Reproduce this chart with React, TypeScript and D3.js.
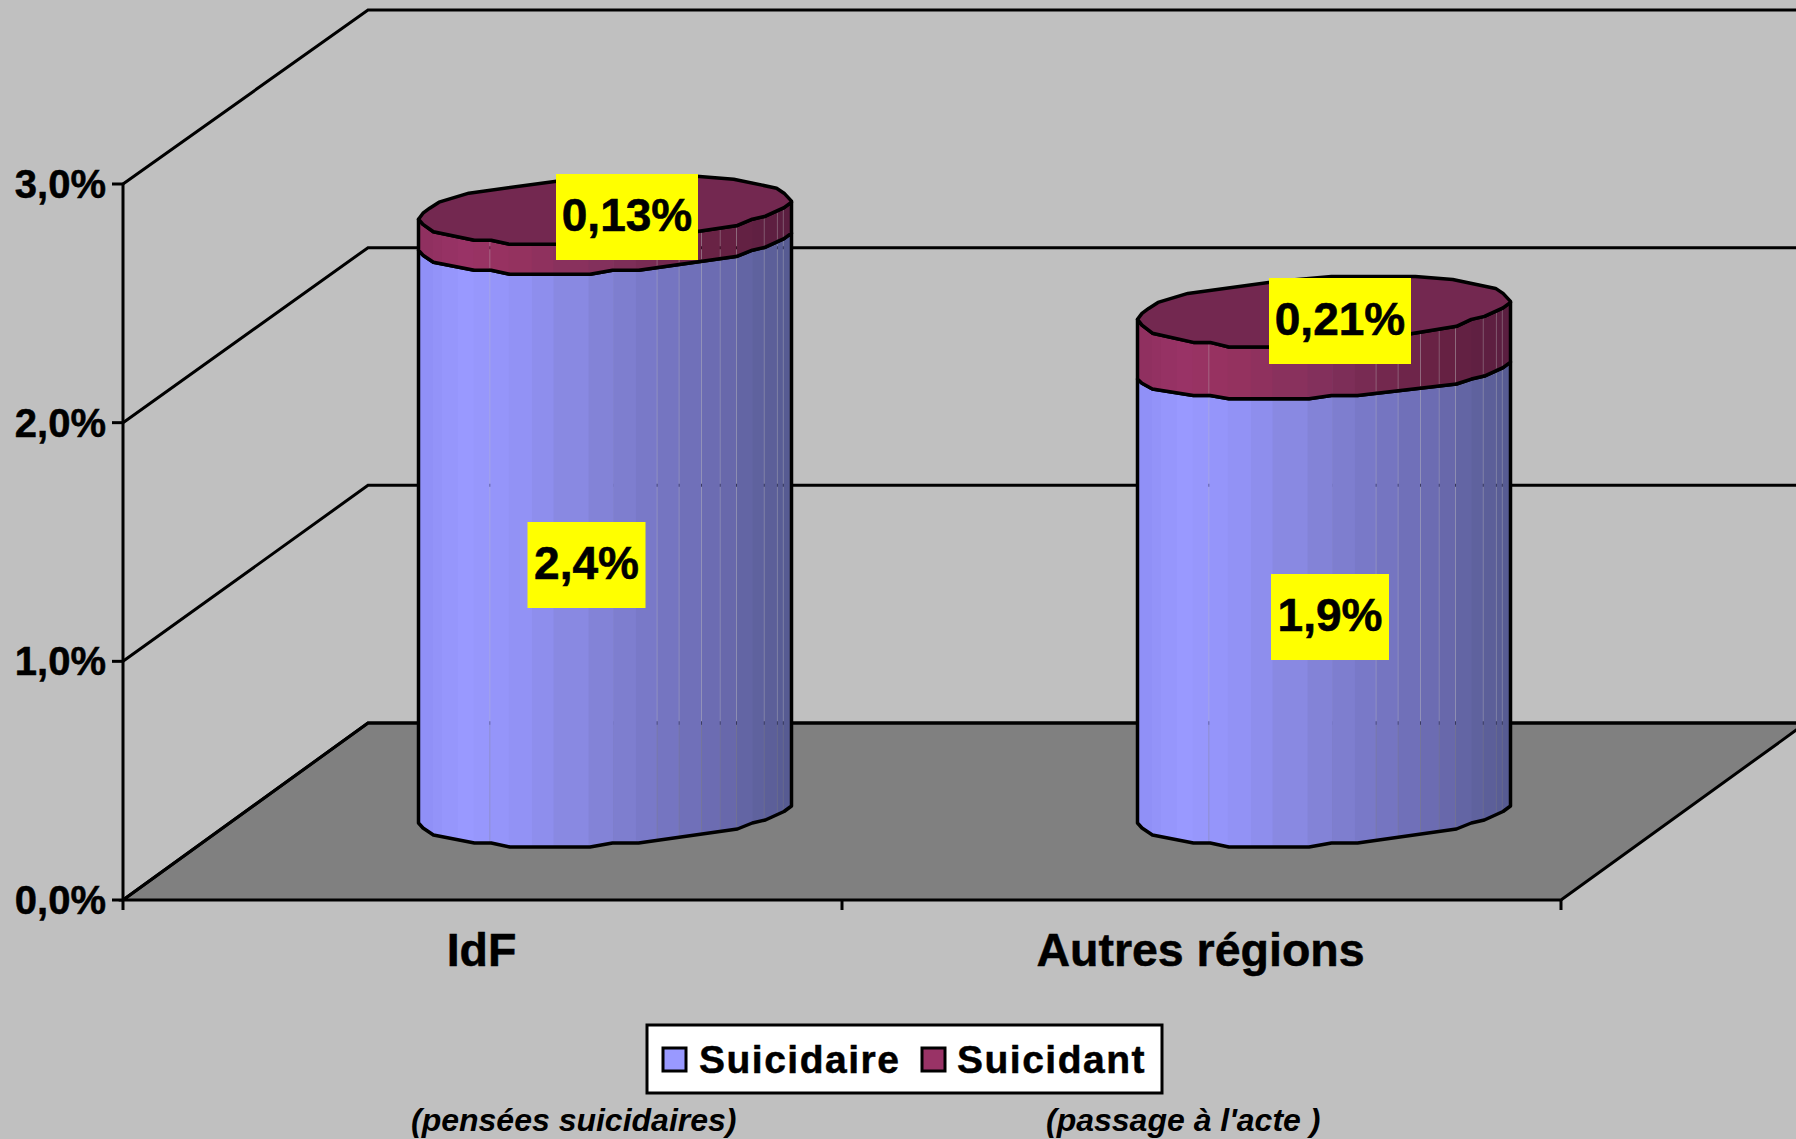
import React from "react";
import * as d3 from "d3";

const width = 1796;
const height = 1139;

// values
const categories = ["IdF", "Autres régions"];
const suicidaire = [2.4, 1.86];
const suicidant = [0.13, 0.25];
const suicidaireLabels = ["2,4%", "1,9%"];
const suicidantLabels = ["0,13%", "0,21%"];
const yTicks = [0, 1, 2, 3];
const yTickLabels = ["0,0%", "1,0%", "2,0%", "3,0%"];

// rim of the cylinder, position across the width / vertical offset
const frontRimX = [0, 0.012, 0.04, 0.15, 0.195, 0.245, 0.46, 0.52, 0.59, 0.855, 0.895, 0.93, 0.98, 1];
const frontRimY = [0, 5, 12, 20, 20, 24, 24, 20, 20, 6, 0, -3, -11.5, -17];
const backRimX = [0, 0.012, 0.03, 0.055, 0.135, 0.37, 0.52, 0.745, 0.845, 0.96, 0.98, 1];
const backRimY = [0, -6, -11, -17, -26, -38, -43, -43, -40, -31, -26, -18];
// the rims are not quite the same on both cylinders
const seamRimDepth = [1, 0.82];
const topRimDepth = [1.05, 1.15];

// facets of the 3D shape
const facetEdges = [0, 0.038, 0.063, 0.105, 0.148, 0.192, 0.242, 0.304, 0.362, 0.456, 0.522, 0.583, 0.64, 0.699, 0.759, 0.809, 0.853, 0.896, 0.927, 0.962, 0.978, 1];
const seams = [0.192, 0.64, 0.699, 0.759, 0.809, 0.853, 0.927, 0.962, 0.978];

const shadeStops = [0, 0.12, 0.25, 0.5, 0.8, 1];
const blueShades = ["#8e8ef5", "#9999ff", "#9494f8", "#8282d6", "#6b6bb0", "#565a90"];
const maroonShades = ["#8e305f", "#993366", "#96325f", "#82305c", "#682244", "#5a1e40"];

const font = "'Liberation Sans', Arial, sans-serif";

const depthX = 245;
const cylWidth = 373;
const cylInset = 77; // bottom left of cylinder above front floor edge

const y = d3.scaleLinear().domain([0, 3]).range([900, 184]);
const yBack = d3.scaleLinear().domain([0, 3]).range([723, 10]);
const x = d3.scaleBand().domain(categories).range([123, 1561]);

const frontRim = d3.scaleLinear().domain(frontRimX).range(frontRimY);
const backRim = d3.scaleLinear().domain(backRimX).range(backRimY);
const blueScale = d3.scaleLinear<string>().domain(shadeStops).range(blueShades);
const maroonScale = d3.scaleLinear<string>().domain(shadeStops).range(maroonShades);

const line = d3.line();

// front rim with its lower belly made deeper or flatter
const rimAt = (f: number, depth: number) => {
  const d = frontRim(f);
  return d > 0 ? d * depth : d;
};

function Segment({ x0, bottom, top, bottomDepth, topDepth, colors }: {
  x0: number; bottom: number; top: number; bottomDepth: number; topDepth: number; colors: d3.ScaleLinear<string, string>;
}) {
  const strips = d3.pairs(facetEdges).map(([a, b]) => {
    // leave a hair of gap at the seams, the background shows through like in the original
    const gap = seams.includes(b) ? -0.35 : 0.6;
    const l = x0 + a * cylWidth;
    const r = Math.min(x0 + b * cylWidth + gap, x0 + cylWidth);
    const pts: [number, number][] = [
      [l, top + rimAt(a, topDepth)],
      [r, top + rimAt(b, topDepth)],
      [r, bottom + rimAt(b, bottomDepth)],
      [l, bottom + rimAt(a, bottomDepth)],
    ];
    return <path key={a} d={line(pts) + "Z"} fill={colors((a + b) / 2)} />;
  });
  const outline: [number, number][] = [
    ...frontRimX.map((f) => [x0 + f * cylWidth, top + rimAt(f, topDepth)] as [number, number]),
    ...frontRimX.map((f) => [x0 + f * cylWidth, bottom + rimAt(f, bottomDepth)] as [number, number]).reverse(),
  ];
  return (
    <g>
      {strips}
      <path d={line(outline) + "Z"} fill="none" stroke="#000" strokeWidth={3.5} strokeLinejoin="round" />
    </g>
  );
}

function Label({ text, cx, y0, w }: { text: string; cx: number; y0: number; w: number }) {
  return (
    <g>
      <rect x={cx - w / 2} y={y0} width={w} height={86} fill="#ffff00" />
      <text x={cx} y={y0 + 57} textAnchor="middle" fontSize={46} fontWeight="bold" fontFamily={font} fill="#000" stroke="#000" strokeWidth={0.6}>
        {text}
      </text>
    </g>
  );
}

const labelCenters = [
  { main: [586.5, 522], top: [627, 174] },
  { main: [1330, 574], top: [1340, 278] },
];

export default function App() {
  const xRight = 1561;
  const xLeft = 123;
  const backLeft = xLeft + depthX;
  const floorY = y(0);
  const backFloorY = yBack(0);
  const boundaries = [xLeft, ...categories.map((c) => (x(c) as number) + x.bandwidth()).map(Math.round)];

  return (
    <svg width={width} height={height} style={{ position: "absolute", left: 0, top: 0, background: "#c0c0c0" }}>
      {/* floor */}
      <path
        d={line([
          [xLeft, floorY],
          [backLeft, backFloorY],
          [xRight + depthX, backFloorY],
          [xRight, floorY],
        ]) + "Z"}
        fill="#808080"
        stroke="#000"
        strokeWidth={3}
      />
      {/* gridlines and walls */}
      {yTicks.map((t) => (
        <g key={t} stroke="#000" strokeWidth={3} fill="none">
          <path d={line([[xLeft, y(t)], [backLeft, yBack(t)], [width, yBack(t)]]) ?? ""} />
          <line x1={xLeft - 11} x2={xLeft} y1={y(t)} y2={y(t)} />
        </g>
      ))}
      <line x1={xLeft} x2={xLeft} y1={y(3)} y2={floorY} stroke="#000" strokeWidth={3} />
      {boundaries.map((b) => (
        <line key={b} x1={b} x2={b} y1={floorY} y2={floorY + 10} stroke="#000" strokeWidth={3} />
      ))}
      {yTicks.map((t, i) => (
        <text key={t} x={106} y={y(t) + 14} textAnchor="end" fontSize={40} fontWeight="bold" fontFamily={font} fill="#000" stroke="#000" strokeWidth={0.5}>
          {yTickLabels[i]}
        </text>
      ))}
      {categories.map((c) => (
        <text key={c} x={(x(c) as number) + x.bandwidth() / 2 - 1} y={966} textAnchor="middle" fontSize={46.5} fontWeight="bold" fontFamily={font} fill="#000" stroke="#000" strokeWidth={0.5}>
          {c}
        </text>
      ))}

      {/* cylinders */}
      {categories.map((c, i) => {
        const x0 = (x(c) as number) + x.bandwidth() / 2 + depthX / 2 - cylWidth / 2;
        const base = floorY - cylInset;
        const lift = (v: number) => base - (floorY - y(v));
        const blueTop = lift(suicidaire[i]);
        const maroonTop = lift(suicidaire[i] + suicidant[i]);
        const topOutline: [number, number][] = [
          ...frontRimX.map((f) => [x0 + f * cylWidth, maroonTop + rimAt(f, topRimDepth[i])] as [number, number]),
          ...backRimX.map((f) => [x0 + f * cylWidth, maroonTop + backRim(f)] as [number, number]).reverse(),
        ];
        return (
          <g key={c}>
            <Segment x0={x0} bottom={base} top={blueTop} bottomDepth={1} topDepth={seamRimDepth[i]} colors={blueScale} />
            <Segment x0={x0} bottom={blueTop} top={maroonTop} bottomDepth={seamRimDepth[i]} topDepth={topRimDepth[i]} colors={maroonScale} />
            <path d={line(topOutline) + "Z"} fill="#732850" stroke="#000" strokeWidth={3.5} strokeLinejoin="round" />
          </g>
        );
      })}

      {/* value labels */}
      {categories.map((c, i) => (
        <g key={c}>
          <Label text={suicidaireLabels[i]} cx={labelCenters[i].main[0]} y0={labelCenters[i].main[1]} w={118} />
          <Label text={suicidantLabels[i]} cx={labelCenters[i].top[0]} y0={labelCenters[i].top[1]} w={142} />
        </g>
      ))}

      {/* legend */}
      <rect x={647} y={1025} width={515} height={68} fill="#fff" stroke="#000" strokeWidth={3} />
      <rect x={663} y={1048} width={23} height={23} fill="#9999ff" stroke="#000" strokeWidth={3} />
      <text x={699} y={1073} fontSize={39} fontWeight="bold" fontFamily={font} letterSpacing={1.5} fill="#000" stroke="#000" strokeWidth={0.5}>Suicidaire</text>
      <rect x={922} y={1048} width={23} height={23} fill="#993366" stroke="#000" strokeWidth={3} />
      <text x={957} y={1073} fontSize={39} fontWeight="bold" fontFamily={font} letterSpacing={1.5} fill="#000" stroke="#000" strokeWidth={0.5}>Suicidant</text>

      <text x={411} y={1131} fontSize={32} fontWeight="bold" fontStyle="italic" fontFamily={font} fill="#000">(pensées suicidaires)</text>
      <text x={1046} y={1131} fontSize={32} fontWeight="bold" fontStyle="italic" fontFamily={font} fill="#000">(passage à l'acte )</text>
    </svg>
  );
}
